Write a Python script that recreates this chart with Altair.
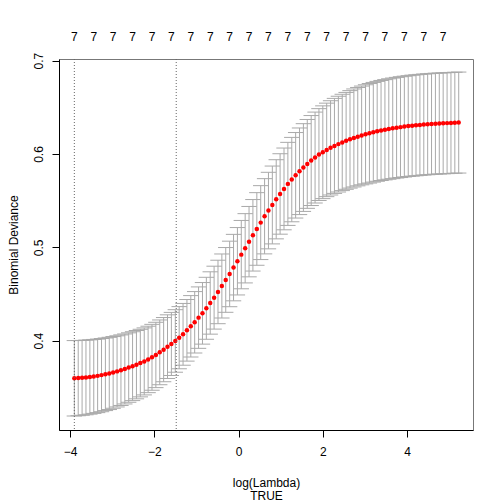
import altair as alt
import pandas as pd

log_lambda = [
    -3.898, -3.806, -3.714, -3.622, -3.529, -3.437, -3.345, -3.253, -3.161, -3.069,
    -2.977, -2.884, -2.792, -2.700, -2.608, -2.516, -2.424, -2.332, -2.239, -2.147,
    -2.055, -1.963, -1.871, -1.779, -1.687, -1.595, -1.502, -1.410, -1.318, -1.226,
    -1.134, -1.042, -0.950, -0.857, -0.765, -0.673, -0.581, -0.489, -0.397, -0.305,
    -0.212, -0.120, -0.028, 0.064, 0.156, 0.248, 0.340, 0.433, 0.525, 0.617,
    0.709, 0.801, 0.893, 0.985, 1.078, 1.170, 1.262, 1.354, 1.446, 1.538,
    1.630, 1.723, 1.815, 1.907, 1.999, 2.091, 2.183, 2.275, 2.368, 2.460,
    2.552, 2.644, 2.736, 2.828, 2.920, 3.013, 3.105, 3.197, 3.289, 3.381,
    3.473, 3.565, 3.658, 3.750, 3.842, 3.934, 4.026, 4.118, 4.210, 4.303,
    4.395, 4.487, 4.579, 4.671, 4.763, 4.855, 4.948, 5.040, 5.132, 5.224,
]

cvm = [
    0.3597, 0.3599, 0.3602, 0.3606, 0.3611, 0.3617, 0.3623, 0.3631, 0.3640, 0.3649,
    0.3660, 0.3671, 0.3684, 0.3697, 0.3712, 0.3727, 0.3743, 0.3760, 0.3778, 0.3799,
    0.3822, 0.3847, 0.3875, 0.3904, 0.3936, 0.3965, 0.3997, 0.4032, 0.4068, 0.4111,
    0.4154, 0.4197, 0.4247, 0.4293, 0.4347, 0.4404, 0.4461, 0.4522, 0.4586, 0.4651,
    0.4715, 0.4783, 0.4851, 0.4922, 0.4990, 0.5061, 0.5129, 0.5197, 0.5265, 0.5333,
    0.5394, 0.5454, 0.5515, 0.5572, 0.5626, 0.5680, 0.5726, 0.5772, 0.5815, 0.5855,
    0.5894, 0.5930, 0.5962, 0.5994, 0.6019, 0.6044, 0.6066, 0.6087, 0.6106, 0.6124,
    0.6141, 0.6157, 0.6172, 0.6186, 0.6199, 0.6211, 0.6222, 0.6233, 0.6243, 0.6252,
    0.6260, 0.6268, 0.6275, 0.6282, 0.6288, 0.6294, 0.6299, 0.6304, 0.6308, 0.6312,
    0.6316, 0.6319, 0.6322, 0.6325, 0.6327, 0.6329, 0.6331, 0.6333, 0.6335, 0.6337,
]

cvsd = [
    0.0404, 0.0403, 0.0401, 0.0400, 0.0398, 0.0396, 0.0394, 0.0392, 0.0389, 0.0387,
    0.0384, 0.0381, 0.0378, 0.0375, 0.0372, 0.0369, 0.0366, 0.0362, 0.0359, 0.0356,
    0.0353, 0.0350, 0.0347, 0.0344, 0.0341, 0.0338, 0.0335, 0.0333, 0.0331, 0.0330,
    0.0329, 0.0329, 0.0329, 0.0330, 0.0332, 0.0334, 0.0337, 0.0340, 0.0343, 0.0347,
    0.0351, 0.0356, 0.0361, 0.0366, 0.0371, 0.0377, 0.0383, 0.0389, 0.0396, 0.0403,
    0.0410, 0.0417, 0.0424, 0.0431, 0.0438, 0.0445, 0.0452, 0.0458, 0.0464, 0.0470,
    0.0476, 0.0482, 0.0487, 0.0492, 0.0497, 0.0501, 0.0505, 0.0509, 0.0513, 0.0516,
    0.0519, 0.0522, 0.0525, 0.0527, 0.0529, 0.0531, 0.0533, 0.0534, 0.0535, 0.0536,
    0.0537, 0.0538, 0.0539, 0.0539, 0.0540, 0.0540, 0.0540, 0.0541, 0.0541, 0.0541,
    0.0541, 0.0541, 0.0541, 0.0541, 0.0541, 0.0541, 0.0541, 0.0541, 0.0541, 0.0541,
]

nzero = [7] * 100

x_ticks = [-4, -2, 0, 2, 4]
y_ticks = [0.4, 0.5, 0.6, 0.7]
lambda_lines = [-3.898, -1.48]   # lambda.min, lambda.1se
x_domain = [-4.262, 5.563]
y_domain = [0.3043, 0.7018]

df = pd.DataFrame({"x": log_lambda, "cvm": cvm, "cvsd": cvsd, "nz": nzero})
df["upper"] = df["cvm"] + df["cvsd"]
df["lower"] = df["cvm"] - df["cvsd"]
barw = (max(log_lambda) - min(log_lambda)) * 0.02
df["xl"] = df["x"] - barw
df["xr"] = df["x"] + barw
df["nzlab"] = df["nz"].astype(str)

top_df = df.iloc[::5].copy()
vl_df = pd.DataFrame({"v": lambda_lines})

W, H = 414, 371

xscale = alt.Scale(domain=x_domain, nice=False, zero=False)
yscale = alt.Scale(domain=y_domain, nice=False, zero=False)
xaxis = alt.Axis(values=x_ticks, title=["log(Lambda)", "TRUE"], titleLineHeight=13,
                 labelPadding=9, titleX=W / 2, titleY=52, titleBaseline="middle",
                 labelFlush=False)
yaxis = alt.Axis(values=y_ticks, title="Binomial Deviance", format=".1f",
                 labelAngle=270, labelAlign="center", labelBaseline="bottom",
                 labelPadding=7, titleX=-42, titleY=H / 2, titleBaseline="alphabetic",
                 titleAngle=270, titleAlign="center", labelFlush=False)

def X(field):
    return alt.X(field, type="quantitative", scale=xscale, axis=xaxis)

def Y(field):
    return alt.Y(field, type="quantitative", scale=yscale, axis=yaxis)

base = alt.Chart(df)
grey = "#a9a9a9"

bars = base.mark_rule(color=grey, strokeWidth=1).encode(x=X("x"), y=Y("lower"), y2="upper")
caps_up = base.mark_rule(color=grey, strokeWidth=1).encode(x=X("xl"), x2="xr", y=Y("upper"))
caps_lo = base.mark_rule(color=grey, strokeWidth=1).encode(x=X("xl"), x2="xr", y=Y("lower"))
pts = base.mark_circle(color="#ff0000", size=20, opacity=1).encode(x=X("x"), y=Y("cvm"))
vlines = alt.Chart(vl_df).mark_rule(color="#666666", strokeDash=[1, 2], strokeWidth=1).encode(x=X("v"))
toplab = alt.Chart(top_df).mark_text(fontSize=12, font="Liberation Sans", baseline="middle",
                                     color="black").encode(x=X("x"), y=alt.value(-22), text="nzlab")

chart = alt.layer(bars, caps_up, caps_lo, pts, vlines, toplab).properties(
    width=W, height=H,
    autosize=alt.AutoSizeParams(type="none"),
    padding={"left": 51, "top": 51, "right": 20, "bottom": 74},
).configure_axis(
    labelFont="Liberation Sans", labelFontSize=12, labelColor="black",
    titleFont="Liberation Sans", titleFontSize=12, titleFontWeight="normal", titleColor="black",
    tickColor="black", domainColor="black", tickSize=7, grid=False,
).configure_view(stroke="#777777")

chart.save("out.html", embed_options={"renderer": "svg", "actions": False})
